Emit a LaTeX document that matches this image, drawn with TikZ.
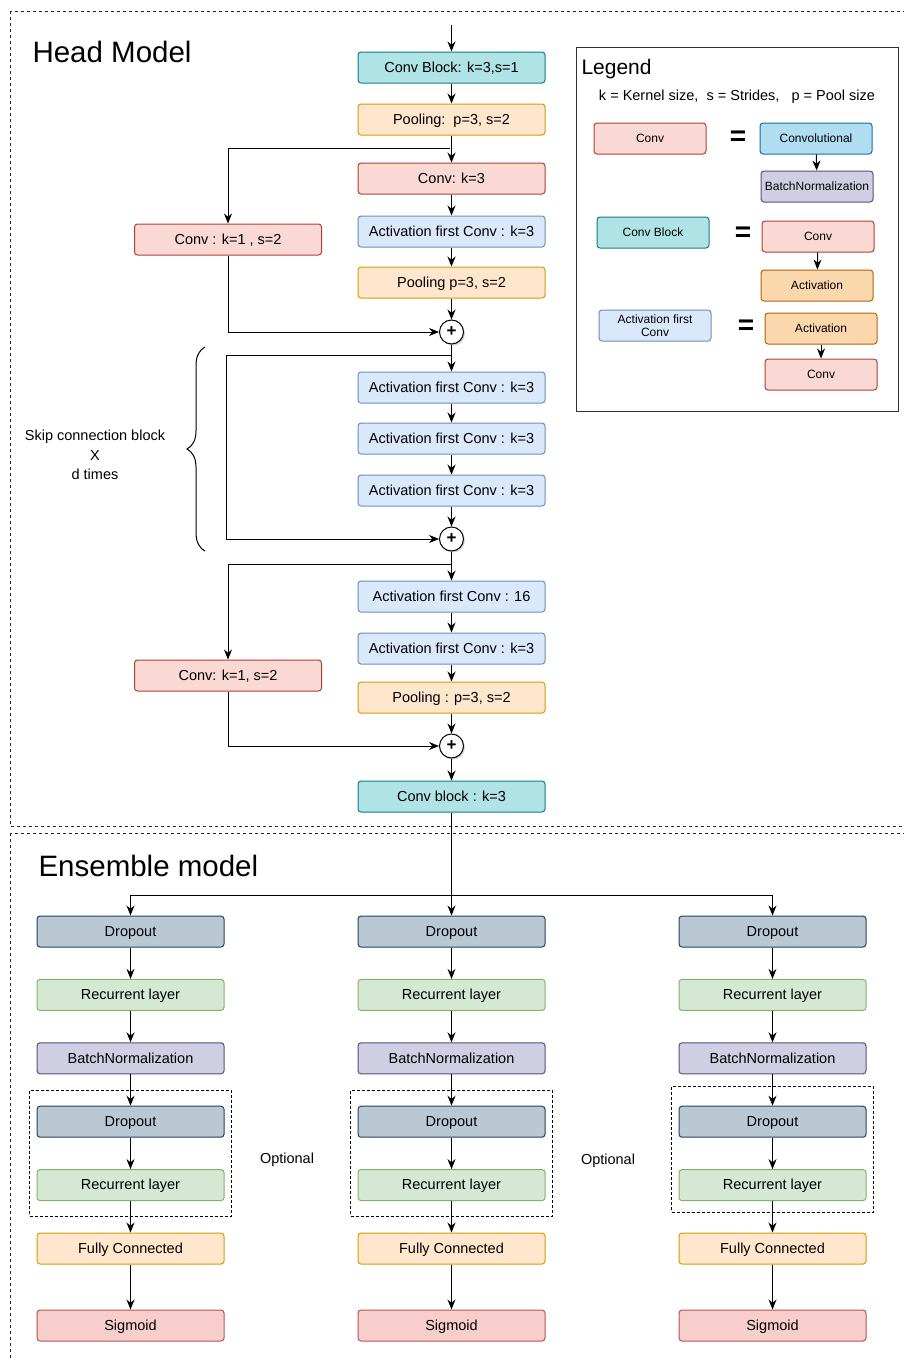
\documentclass[tikz,border=0pt]{standalone}
\usepackage{fontspec}
\setmainfont{Liberation Sans}
\usepackage{tikz}
\usetikzlibrary{arrows.meta,positioning,calc,fit,shadows,decorations.pathreplacing}
\definecolor{tealfill}{HTML}{B0E3E6}\definecolor{tealline}{HTML}{0E8088}
\definecolor{peachfill}{HTML}{FFE6CC}\definecolor{peachline}{HTML}{D79B00}
\definecolor{rosefill}{HTML}{FAD9D5}\definecolor{roseline}{HTML}{AE4132}
\definecolor{skyfill}{HTML}{DAE8FC}\definecolor{skyline}{HTML}{6C8EBF}
\definecolor{bluefill}{HTML}{B1DDF0}\definecolor{blueline}{HTML}{10739E}
\definecolor{lilacfill}{HTML}{D0CEE2}\definecolor{lilacline}{HTML}{56517E}
\definecolor{amberfill}{HTML}{FAD7AC}\definecolor{amberline}{HTML}{B46504}
\definecolor{slatefill}{HTML}{BAC8D3}\definecolor{slateline}{HTML}{23445D}
\definecolor{sagefill}{HTML}{D5E8D4}\definecolor{sageline}{HTML}{82B366}
\definecolor{pinkfill}{HTML}{F8CECC}\definecolor{pinkline}{HTML}{B85450}
\tikzset{
  blk/.style={rectangle, rounded corners=3pt, draw=#1line, fill=#1fill, line width=1pt,
              minimum width=187pt, minimum height=31pt, inner sep=2pt, align=center,
              text height=10.5pt, text depth=1pt,
              font=\fontsize{14.5}{17}\selectfont},
  lgd/.style={blk=#1, minimum width=112pt, text height=8.7pt, text depth=1pt,
              font=\fontsize{12}{13.5}\selectfont},
  addnode/.style={circle, draw, fill=white, line width=1pt, minimum size=24pt, inner sep=0pt,
                  font=\fontsize{17}{17}\selectfont\bfseries,
                  drop shadow={shadow xshift=1.5pt, shadow yshift=-1.5pt, opacity=0.35}},
  eqsign/.style={font=\fontsize{28}{28}\selectfont\bfseries, inner sep=0pt},
  lbl/.style={font=\fontsize{14.5}{19.5}\selectfont, align=center},
  frame/.style={draw=black!85, line width=1pt, dash pattern=on 3pt off 3pt},
  optbox/.style={draw, line width=1pt, dash pattern=on 3pt off 2pt, inner xsep=7pt, inner ysep=15pt},
  arr/.style={-{Stealth[length=10pt, width=8pt]}, line width=1pt},
}

\begin{document}
\begin{tikzpicture}[x=1pt, y=-1pt, node distance=31.4pt]
  \useasboundingbox (0,0) rectangle (904,1360);
  \clip (0,0) rectangle (904,1360);
  % outer frames
  \draw[frame] (10,11) rectangle (915,826);
  \draw[frame] (10,833) rectangle (915,1375);
  \node[anchor=west, font=\fontsize{29.5}{32}\selectfont] (headtitle) at (29,52) {Head Model};
  \node[anchor=west, font=\fontsize{29.5}{32}\selectfont] (enstitle) at (35,866) {Ensemble model};

  % head model
  \coordinate (in) at (451.5,25);
  \node[blk=teal] (cb1) at (451.5,67.5) {Conv Block: k=3,s=1};
  \node[blk=peach] (pool1) at (451.5,119.5) {Pooling:\ \ p=3, s=2};
  \node[blk=rose] (conv1) at (451.5,178.5) {Conv: k=3};
  \node[blk=sky] (act1) at (451.5,231.5) {Activation first Conv : k=3};
  \node[blk=peach] (pool2) at (451.5,282.5) {Pooling p=3, s=2};
  \node[addnode] (plus1) at (451.5,332) {+};
  \node[blk=rose] (cvl1) at (228,239.5) {Conv : k=1 , s=2};
  \node[blk=sky] (act2) at (451.5,387.5) {Activation first Conv : k=3};
  \node[blk=sky] (act3) at (451.5,438.5) {Activation first Conv : k=3};
  \node[blk=sky] (act4) at (451.5,490.5) {Activation first Conv : k=3};
  \node[addnode] (plus2) at (451.5,539) {+};
  \node[blk=sky] (act5) at (451.5,596.5) {Activation first Conv : 16};
  \node[blk=sky] (act6) at (451.5,648.5) {Activation first Conv : k=3};
  \node[blk=peach] (pool3) at (451.5,697.5) {Pooling : p=3, s=2};
  \node[addnode] (plus3) at (451.5,746) {+};
  \node[blk=rose] (cvl2) at (228,675.5) {Conv: k=1, s=2};
  \node[blk=teal] (cb2) at (451.5,796.5) {Conv block : k=3};
  \draw[arr] (in) -- (cb1); \draw[arr] (cb1) -- (pool1); \draw[arr] (pool1) -- (conv1);
  \draw[arr] (conv1) -- (act1); \draw[arr] (act1) -- (pool2); \draw[arr] (pool2) -- (plus1);
  \draw[arr] (plus1) -- (act2); \draw[arr] (act2) -- (act3); \draw[arr] (act3) -- (act4);
  \draw[arr] (act4) -- (plus2); \draw[arr] (plus2) -- (act5); \draw[arr] (act5) -- (act6);
  \draw[arr] (act6) -- (pool3); \draw[arr] (pool3) -- (plus3); \draw[arr] (plus3) -- (cb2);
  % skip connections
  \coordinate (br1) at (450,148);
  \draw[arr] (br1) -| (cvl1);
  \draw[arr] (cvl1) |- (plus1);
  \coordinate (br2) at (451.5,355);
  \coordinate (br2l) at (226,355);
  \draw[arr] (br2) -- (br2l) |- (plus2);
  \coordinate (br3) at (451.5,564);
  \draw[arr] (br3) -| (cvl2);
  \draw[arr] (cvl2) |- (plus3);
  % repeated block
  \draw[line width=1pt, decorate, decoration={brace, amplitude=18pt}] (205,551) -- (205,347);
  \node[lbl] (skiplbl) at (95,455) {Skip connection block\\X\\d times};

  % legend
  \draw[draw=black!80, line width=1pt] (576,47) rectangle (898,411);
  \node[anchor=west, font=\fontsize{21}{24}\selectfont] (lgtitle) at (578,69) {Legend};
  \node[font=\fontsize{14.5}{17}\selectfont] (lgkey) at (737,97) {k = Kernel size,\ \ s = Strides,\ \ \ p = Pool size};
  \node[lgd=rose] (lconv) at (650,138.5) {Conv};
  \node[eqsign] (eq1) at (738,138) {=};
  \node[lgd=blue] (lcnn) at (816,138.5) {Convolutional};
  \node[lgd=lilac] (lbn) at (817,186.5) {BatchNormalization};
  \node[lgd=teal] (lcb) at (653,232.5) {Conv Block};
  \node[eqsign] (eq2) at (743,234) {=};
  \node[lgd=rose] (lconv2) at (818,236.5) {Conv};
  \node[lgd=amber] (lact) at (817,285.5) {Activation};
  \node[lgd=sky, text height=, text depth=] (lafc) at (655,325.5) {Activation first\\Conv};
  \node[eqsign] (eq3) at (746,327) {=};
  \node[lgd=amber] (lact2) at (821,328.5) {Activation};
  \node[lgd=rose] (lconv3) at (821,374.5) {Conv};
  \draw[arr] (lcnn) -- (lbn); \draw[arr] (lconv2) -- (lact); \draw[arr] (lact2) -- (lconv3);

  % ensemble model
  \node[blk=slate] (e1d) at (130.5,931.5) {Dropout};
  \node[blk=sage, below=of e1d] (e1r) {Recurrent layer};
  \node[blk=lilac, below=of e1r] (e1b) {BatchNormalization};
  \node[blk=slate, below=of e1b] (e1d2) {Dropout};
  \node[blk=sage, below=of e1d2] (e1r2) {Recurrent layer};
  \node[blk=peach, below=of e1r2] (e1f) {Fully Connected};
  \node[blk=pink, below=45pt of e1f] (e1s) {Sigmoid};
  \node[blk=slate] (e2d) at (451.5,931.5) {Dropout};
  \node[blk=sage, below=of e2d] (e2r) {Recurrent layer};
  \node[blk=lilac, below=of e2r] (e2b) {BatchNormalization};
  \node[blk=slate, below=of e2b] (e2d2) {Dropout};
  \node[blk=sage, below=of e2d2] (e2r2) {Recurrent layer};
  \node[blk=peach, below=of e2r2] (e2f) {Fully Connected};
  \node[blk=pink, below=45pt of e2f] (e2s) {Sigmoid};
  \node[blk=slate] (e3d) at (772.5,931.5) {Dropout};
  \node[blk=sage, below=of e3d] (e3r) {Recurrent layer};
  \node[blk=lilac, below=of e3r] (e3b) {BatchNormalization};
  \node[blk=slate, below=of e3b] (e3d2) {Dropout};
  \node[blk=sage, below=of e3d2] (e3r2) {Recurrent layer};
  \node[blk=peach, below=of e3r2] (e3f) {Fully Connected};
  \node[blk=pink, below=45pt of e3f] (e3s) {Sigmoid};
  \node[optbox, fit=(e1d2)(e1r2)] (opt1) {};
  \node[optbox, fit=(e2d2)(e2r2)] (opt2) {};
  \node[optbox, fit=(e3d2)(e3r2), yshift=4pt] (opt3) {};
  \node[lbl] (optlbl1) at (287,1160) {Optional};
  \node[lbl] (optlbl2) at (608,1161) {Optional};
  \coordinate (fan) at (451.5,895);
  \draw[arr] (cb2) -- (e2d); \draw[arr] (fan) -| (e1d); \draw[arr] (fan) -| (e3d);
  \draw[arr] (e1d) -- (e1r); \draw[arr] (e1r) -- (e1b); \draw[arr] (e1b) -- (e1d2);
  \draw[arr] (e1d2) -- (e1r2); \draw[arr] (e1r2) -- (e1f); \draw[arr] (e1f) -- (e1s);
  \draw[arr] (e2d) -- (e2r); \draw[arr] (e2r) -- (e2b); \draw[arr] (e2b) -- (e2d2);
  \draw[arr] (e2d2) -- (e2r2); \draw[arr] (e2r2) -- (e2f); \draw[arr] (e2f) -- (e2s);
  \draw[arr] (e3d) -- (e3r); \draw[arr] (e3r) -- (e3b); \draw[arr] (e3b) -- (e3d2);
  \draw[arr] (e3d2) -- (e3r2); \draw[arr] (e3r2) -- (e3f); \draw[arr] (e3f) -- (e3s);
\end{tikzpicture}
\end{document}
